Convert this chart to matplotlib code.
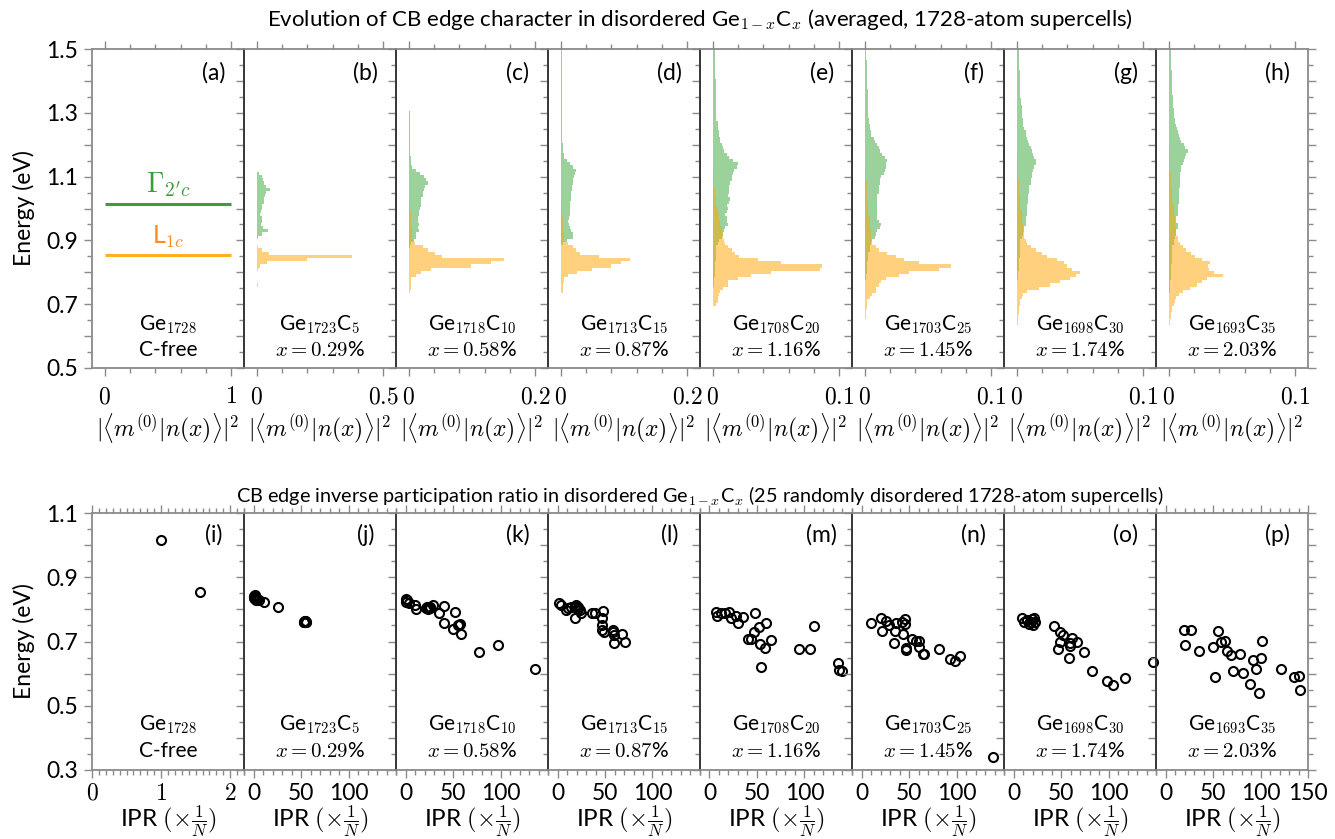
import numpy as np
import matplotlib
matplotlib.use('Agg')
import matplotlib.pyplot as plt
from matplotlib.ticker import FixedLocator, MultipleLocator

plt.rcParams['font.family'] = ['Lato', 'DejaVu Sans']
plt.rcParams['mathtext.fontset'] = 'cm'

# ---------------- DATA ----------------
E_STEP = 0.01  # histogram bin width (eV)

# panel (a): unperturbed Ge levels
a_level_E = [1.015, 0.855]
a_level_names = [r"$\Gamma_{2'c}$", r"L$_{1c}$"]

# panels (b)-(h): Gamma-character (green) and L-character (orange) spectral weights
# each list starts at the given energy and ascends in steps of E_STEP
b_green_E0 = 0.91
b_green = [0.006, 0.020, 0.045, 0.025, 0.016, 0.022, 0.020, 0.015, 0.016, 0.020, 0.022,
           0.027, 0.030, 0.033, 0.035, 0.052, 0.038, 0.030, 0.025, 0.022, 0.010]
b_orange_E0 = 0.76
b_orange = [0.006, 0.0, 0.0, 0.0, 0.002, 0.004, 0.015, 0.040, 0.200, 0.377, 0.050, 0.022, 0.004]

c_green_E0 = 0.88
c_green = [0.002, 0.004, 0.008, 0.012, 0.011, 0.017, 0.015, 0.016, 0.014, 0.015, 0.017, 0.016,
           0.018, 0.019, 0.019, 0.020, 0.022, 0.023, 0.024, 0.026, 0.030, 0.028, 0.024, 0.018,
           0.012, 0.005, 0.003, 0.003, 0.003, 0.002, 0.002, 0.002, 0.002,
           0.0015, 0.0015, 0.0015, 0.0015, 0.0015, 0.0015, 0.0015, 0.0015, 0.0015, 0.0015,
           0.0012, 0.0012, 0.0012, 0.0012, 0.0012, 0.0012, 0.0012, 0.0012, 0.0012, 0.0012,
           0.001, 0.001, 0.001, 0.001, 0.001, 0.001, 0.001, 0.001, 0.001, 0.001]
c_orange_E0 = 0.74
c_orange = [0.002, 0.003, 0.004, 0.003, 0.003, 0.012, 0.020, 0.035, 0.099, 0.130, 0.150, 0.052,
            0.041, 0.030, 0.023, 0.010, 0.007, 0.006, 0.006, 0.005, 0.005, 0.004, 0.004, 0.003,
            0.003, 0.003, 0.002, 0.002, 0.002, 0.001, 0.001, 0.001]

d_green_E0 = 0.89
d_green = [0.003, 0.010, 0.020, 0.019, 0.017, 0.014, 0.013, 0.012, 0.013, 0.014, 0.015, 0.015,
           0.014, 0.015, 0.016, 0.016, 0.017, 0.018, 0.018, 0.019, 0.020, 0.021, 0.023, 0.024,
           0.020, 0.015, 0.010, 0.006, 0.005, 0.004, 0.003, 0.003,
           0.0025, 0.0025, 0.0025, 0.0025, 0.0025, 0.0025, 0.0025, 0.0025, 0.0025, 0.0025,
           0.002, 0.002, 0.002, 0.002, 0.002, 0.002, 0.002, 0.002, 0.002, 0.002,
           0.0015, 0.0015, 0.0015, 0.0015, 0.0015, 0.0015, 0.0015, 0.0015, 0.0015, 0.0015]
d_orange_E0 = 0.74
d_orange = [0.003, 0.003, 0.004, 0.005, 0.006, 0.012, 0.025, 0.050, 0.080, 0.095, 0.110, 0.060,
            0.031, 0.024, 0.020, 0.012, 0.006, 0.005, 0.005, 0.004, 0.004, 0.003, 0.003, 0.003,
            0.002, 0.002, 0.002, 0.001, 0.001, 0.001, 0.001]

e_green_E0 = 0.76
e_green = [0.001, 0.001, 0.001, 0.002, 0.002, 0.002, 0.002, 0.002, 0.003, 0.003, 0.003, 0.003,
           0.003, 0.004, 0.005, 0.007, 0.008, 0.009, 0.010, 0.012, 0.011, 0.011, 0.010, 0.011,
           0.012, 0.011, 0.013, 0.014, 0.012, 0.013, 0.013, 0.013, 0.014, 0.015, 0.015, 0.016,
           0.017, 0.019, 0.020, 0.016, 0.013, 0.011, 0.009, 0.008, 0.007, 0.006, 0.006, 0.005,
           0.005, 0.004, 0.004, 0.004, 0.003, 0.003, 0.003,
           0.0025, 0.0025, 0.0025, 0.0025, 0.0025, 0.0025, 0.0025, 0.0025, 0.0025, 0.0025,
           0.002, 0.002, 0.002, 0.002, 0.002, 0.002, 0.002, 0.002, 0.002, 0.002]
e_orange_E0 = 0.70
e_orange = [0.003, 0.004, 0.004, 0.005, 0.006, 0.008, 0.012, 0.012, 0.020, 0.030, 0.046, 0.085,
            0.086, 0.054, 0.036, 0.021, 0.018, 0.015, 0.012, 0.010, 0.009, 0.008, 0.008, 0.007,
            0.007, 0.006, 0.006, 0.005, 0.005, 0.004, 0.004, 0.003, 0.003, 0.003, 0.002, 0.002,
            0.002, 0.001, 0.001, 0.001, 0.001]

f_green_E0 = 0.78
f_green = [0.001, 0.001, 0.002, 0.002, 0.002, 0.002, 0.003, 0.003, 0.003, 0.004, 0.004, 0.005,
           0.006, 0.008, 0.009, 0.010, 0.012, 0.013, 0.011, 0.010, 0.010, 0.010, 0.010, 0.010,
           0.010, 0.010, 0.010, 0.011, 0.011, 0.011, 0.012, 0.012, 0.013, 0.015, 0.016, 0.017,
           0.017, 0.018, 0.016, 0.014, 0.012, 0.011, 0.010, 0.008, 0.007, 0.005, 0.005, 0.004,
           0.004, 0.0035, 0.0035, 0.003, 0.003, 0.003, 0.003, 0.0028, 0.0026, 0.0025, 0.0024,
           0.0023, 0.0022, 0.0021, 0.002, 0.002, 0.0019, 0.0018, 0.0017, 0.0016, 0.0015, 0.0014,
           0.0013, 0.0012, 0.0011]
f_orange_E0 = 0.66
f_orange = [0.001, 0.001, 0.001, 0.002, 0.002, 0.002, 0.004, 0.006, 0.009, 0.009, 0.011, 0.013,
            0.017, 0.027, 0.035, 0.059, 0.068, 0.043, 0.031, 0.025, 0.018, 0.011, 0.009, 0.006,
            0.005, 0.005, 0.005, 0.005, 0.004, 0.004, 0.004, 0.004, 0.003, 0.003, 0.003, 0.003,
            0.003, 0.002, 0.002, 0.002, 0.002, 0.002, 0.002, 0.001, 0.001, 0.001, 0.001]

g_green_E0 = 0.78
g_green = [0.001, 0.001, 0.001, 0.002, 0.002, 0.002, 0.002, 0.003, 0.003, 0.003, 0.003, 0.003,
           0.003, 0.004, 0.005, 0.006, 0.006, 0.007, 0.007, 0.007, 0.008, 0.008, 0.008, 0.008,
           0.009, 0.009, 0.009, 0.010, 0.010, 0.010, 0.011, 0.011, 0.012, 0.012, 0.013, 0.014,
           0.015, 0.015, 0.014, 0.013, 0.012, 0.011, 0.010, 0.009, 0.008, 0.007, 0.007, 0.006,
           0.005, 0.005, 0.005, 0.004, 0.004, 0.004, 0.004, 0.0035, 0.0035, 0.003, 0.003, 0.003,
           0.003, 0.0028, 0.0026, 0.0025, 0.0024, 0.0023, 0.0022, 0.002, 0.002, 0.0019, 0.0018,
           0.0017, 0.0016]
g_orange_E0 = 0.64
g_orange = [0.001, 0.001, 0.001, 0.002, 0.002, 0.002, 0.003, 0.003, 0.004, 0.005, 0.008, 0.018,
            0.026, 0.034, 0.042, 0.047, 0.050, 0.044, 0.040, 0.037, 0.032, 0.024, 0.020, 0.015,
            0.011, 0.008, 0.007, 0.006, 0.006, 0.005, 0.005, 0.005, 0.004, 0.004, 0.004, 0.004,
            0.003, 0.003, 0.003, 0.003, 0.003, 0.002, 0.002, 0.002, 0.002, 0.002, 0.001, 0.001,
            0.001, 0.001, 0.001, 0.001]

h_green_E0 = 0.74
h_green = [0.001, 0.001, 0.001, 0.001, 0.002, 0.002, 0.002, 0.002, 0.002, 0.003, 0.003, 0.003,
           0.003, 0.003, 0.003, 0.004, 0.004, 0.005, 0.006, 0.006, 0.007, 0.007, 0.006, 0.006,
           0.007, 0.007, 0.007, 0.007, 0.008, 0.008, 0.008, 0.008, 0.008, 0.009, 0.009, 0.009,
           0.009, 0.009, 0.010, 0.010, 0.011, 0.012, 0.013, 0.014, 0.0155, 0.013, 0.012, 0.010,
           0.009, 0.008, 0.007, 0.0065, 0.006, 0.005, 0.005, 0.0045, 0.004, 0.004, 0.0038,
           0.0036, 0.0034, 0.0032, 0.003, 0.003, 0.0028, 0.0027, 0.0026, 0.0025, 0.0024, 0.0023,
           0.0022, 0.0021, 0.002, 0.002, 0.0019, 0.0018, 0.0017]
h_orange_E0 = 0.64
h_orange = [0.001, 0.001, 0.002, 0.002, 0.003, 0.003, 0.004, 0.005, 0.006, 0.008, 0.011, 0.017,
            0.022, 0.026, 0.030, 0.043, 0.036, 0.032, 0.031, 0.033, 0.026, 0.021, 0.018, 0.014,
            0.011, 0.009, 0.007, 0.007, 0.006, 0.006, 0.006, 0.005, 0.005, 0.005, 0.004, 0.004,
            0.004, 0.004, 0.003, 0.003, 0.003, 0.003, 0.003, 0.002, 0.002, 0.002, 0.002, 0.002,
            0.001, 0.001, 0.001, 0.001, 0.001, 0.001, 0.001]

hist_green = [(b_green_E0, b_green), (c_green_E0, c_green), (d_green_E0, d_green),
              (e_green_E0, e_green), (f_green_E0, f_green), (g_green_E0, g_green),
              (h_green_E0, h_green)]
hist_orange = [(b_orange_E0, b_orange), (c_orange_E0, c_orange), (d_orange_E0, d_orange),
               (e_orange_E0, e_orange), (f_orange_E0, f_orange), (g_orange_E0, g_orange),
               (h_orange_E0, h_orange)]

# panels (i)-(p): IPR vs energy of CB edge states
i_ipr = [1.0, 1.57]
i_E = [1.015, 0.855]
j_ipr = [0.5, 1.0, 1.5, 2.0, 2.5, 3.0, 3.5, 1.2, 2.2, 0.8, 1.8, 2.8, 6, 11, 26,
         53, 53.5, 54, 54.5, 55, 53.8, 54.3, 55.3, 54.6, 53.3]
j_E = [0.843, 0.838, 0.833, 0.840, 0.835, 0.830, 0.828, 0.845, 0.831, 0.836, 0.842, 0.834, 0.829,
       0.823, 0.806, 0.762, 0.760, 0.763, 0.761, 0.762, 0.764, 0.760, 0.762, 0.763, 0.761]
k_ipr = [0.5, 0.9, 3.4, 10, 10.8, 22, 23.7, 25.5, 29, 35.5, 40.5, 41, 50, 52.6, 55, 57, 58,
         77, 97.6, 136, 2, 24, 26, 56, 22.5]
k_E = [0.831, 0.824, 0.819, 0.814, 0.802, 0.803, 0.806, 0.808, 0.815, 0.788, 0.811, 0.757, 0.739,
       0.793, 0.752, 0.754, 0.722, 0.668, 0.688, 0.615, 0.828, 0.801, 0.804, 0.750, 0.806]
l_ipr = [1.6, 4, 9.3, 11, 14.5, 18, 19.8, 21.6, 23.3, 25, 18, 36.6, 39, 47.9, 47, 46.5, 47,
         48.6, 58.4, 59, 59.5, 68.3, 71, 22, 58]
l_E = [0.819, 0.814, 0.798, 0.803, 0.808, 0.806, 0.814, 0.808, 0.798, 0.790, 0.774, 0.790, 0.790,
       0.796, 0.772, 0.751, 0.736, 0.731, 0.729, 0.720, 0.696, 0.722, 0.700, 0.800, 0.735]
m_ipr = [7.2, 7.9, 11.8, 16.6, 20.2, 23, 28.2, 30, 35.3, 47.6, 51.8, 47, 40.5, 44, 53.5, 59.8,
         58.8, 64.4, 54.5, 93.9, 105.5, 110, 135.3, 136, 139.8]
m_E = [0.793, 0.779, 0.790, 0.788, 0.793, 0.772, 0.780, 0.757, 0.777, 0.788, 0.746, 0.731, 0.707,
       0.707, 0.692, 0.759, 0.679, 0.705, 0.620, 0.677, 0.677, 0.749, 0.632, 0.611, 0.609]
n_ipr = [9.7, 20.2, 22, 26.2, 28.6, 35, 36.6, 34.2, 42.6, 43.7, 45.5, 46, 47.2, 47.2, 53.2, 57.7,
         60.5, 60.2, 64.7, 65.8, 81.2, 92.8, 98.7, 104, 138.4]
n_E = [0.759, 0.772, 0.734, 0.765, 0.751, 0.734, 0.759, 0.696, 0.762, 0.723, 0.769, 0.754, 0.679,
       0.674, 0.707, 0.703, 0.703, 0.682, 0.661, 0.660, 0.677, 0.645, 0.640, 0.656, 0.341]
o_ipr = [8.9, 10.7, 14.2, 16, 18.4, 20.5, 21.9, 23, 19, 42.3, 49.3, 52.1, 49.3, 46.5, 58.1, 59.2,
         59.8, 61.6, 66.8, 74.5, 82.6, 98.4, 104.7, 117.7, 146.8]
o_E = [0.772, 0.762, 0.767, 0.754, 0.762, 0.751, 0.772, 0.762, 0.770, 0.749, 0.731, 0.720, 0.700,
       0.677, 0.650, 0.694, 0.686, 0.711, 0.698, 0.667, 0.607, 0.576, 0.565, 0.585, 0.637]
p_ipr = [19.8, 27.2, 20.2, 34.9, 55.3, 50, 58.7, 63, 64.7, 69.3, 78.7, 71, 81.3, 52.5, 92, 95.6,
         101.6, 100.8, 89.3, 98, 121.6, 135.6, 140.2, 141.9]
p_E = [0.736, 0.736, 0.689, 0.671, 0.734, 0.682, 0.700, 0.702, 0.670, 0.658, 0.661, 0.609, 0.603,
       0.590, 0.642, 0.614, 0.702, 0.650, 0.568, 0.539, 0.614, 0.589, 0.593, 0.549]
ipr_sets = [(i_ipr, i_E), (j_ipr, j_E), (k_ipr, k_E), (l_ipr, l_E), (m_ipr, m_E),
            (n_ipr, n_E), (o_ipr, o_E), (p_ipr, p_E)]

compositions = ["Ge$_{1728}$", "Ge$_{1723}$C$_{5}$", "Ge$_{1718}$C$_{10}$", "Ge$_{1713}$C$_{15}$",
                "Ge$_{1708}$C$_{20}$", "Ge$_{1703}$C$_{25}$", "Ge$_{1698}$C$_{30}$",
                "Ge$_{1693}$C$_{35}$"]
concentrations = ["C-free", "$x = 0.29$%", "$x = 0.58$%", "$x = 0.87$%", "$x = 1.16$%",
                  "$x = 1.45$%", "$x = 1.74$%", "$x = 2.03$%"]
top_letters = ["(a)", "(b)", "(c)", "(d)", "(e)", "(f)", "(g)", "(h)"]
bot_letters = ["(i)", "(j)", "(k)", "(l)", "(m)", "(n)", "(o)", "(p)"]

top_xmax = [1, 0.5, 0.2, 0.2, 0.1, 0.1, 0.1, 0.1]
top_xticklabels = [["$0$", "$1$"], ["$0$", "$0.5$"], ["$0$", "$0.2$"], ["$0$", "$0.2$"],
                   ["$0$", "$0.1$"], ["$0$", "$0.1$"], ["$0$", "$0.1$"], ["$0$", "$0.1$"]]
top_minor = [0.2, 0.1, 0.04, 0.04, 0.02, 0.02, 0.02, 0.02]
top_yticks = [0.5, 0.6, 0.7, 0.8, 0.9, 1.0, 1.1, 1.2, 1.3, 1.4, 1.5]
top_yticklabels = ["0.5", "", "0.7", "", "0.9", "", "1.1", "", "1.3", "", "1.5"]
bot_yticks = [0.3, 0.4, 0.5, 0.6, 0.7, 0.8, 0.9, 1.0, 1.1]
bot_yticklabels = ["0.3", "", "0.5", "", "0.7", "", "0.9", "", "1.1"]
i_xticks = [0, 1, 2]
i_xticklabels = ["$0$", "$1$", "$2$"]
ipr_xticks = [0, 50, 100, 150]

title_top = "Evolution of CB edge character in disordered Ge$_{1-x}$C$_x$ (averaged, 1728-atom supercells)"
title_bot = ("CB edge inverse participation ratio in disordered Ge$_{1-x}$C$_x$ "
             "(25 randomly disordered 1728-atom supercells)")
xlabel_top = r"$|\langle m^{(0)}|n(x)\rangle|^2$"
xlabel_bot = r"IPR $(\times\frac{1}{N})$"

# ---------------- STYLE ----------------
GREEN = '#2ca02c'
ORANGE = '#ffa500'
LINE_GREEN = '#3b9e3b'
LINE_ORANGE = '#ffb020'
LABEL_ORANGE = '#ff8c1a'
FRAME = '#8a8a8a'
DIVIDER = '#2a2a2a'

W, H = 1335, 839
fig = plt.figure(figsize=(W / 100, H / 100), dpi=100)
LEFT0, PW = 92, 152
TOP = (49, 368)
BOT = (513, 770)


def add_ax(k, yr):
    return fig.add_axes([(LEFT0 + PW * k) / W, 1 - yr[1] / H, PW / W, (yr[1] - yr[0]) / H])


def style(ax, k, xpad):
    ax.set_facecolor('none')
    for s in ax.spines.values():
        s.set_color(FRAME)
        s.set_linewidth(1.3)
    if k > 0:
        ax.spines['left'].set_color(DIVIDER)
        ax.spines['left'].set_linewidth(1.2)
    last = (k == 7)
    ax.tick_params(which='both', direction='out', colors=FRAME, labelcolor='black',
                   top=True, bottom=True, left=True, right=last, labelsize=16.5)
    ax.tick_params(which='major', length=6, width=1.0)
    ax.tick_params(which='minor', length=3.5, width=1.0)
    ax.tick_params(axis='x', which='major', pad=xpad)
    ax.tick_params(axis='y', which='major', pad=4)
    if k > 0:
        ax.tick_params(labelleft=False)


for k in range(8):
    ax = add_ax(k, TOP)
    style(ax, k, 7)
    ax.set_ylim(0.5, 1.5)
    ax.set_xlim(-0.1 * top_xmax[k], 1.1 * top_xmax[k])
    ax.xaxis.set_major_locator(FixedLocator([0, top_xmax[k]]))
    ax.set_xticklabels(top_xticklabels[k], fontsize=17)
    ax.xaxis.set_minor_locator(MultipleLocator(top_minor[k]))
    ax.yaxis.set_major_locator(FixedLocator(top_yticks))
    ax.set_yticklabels(top_yticklabels)
    ax.yaxis.set_minor_locator(MultipleLocator(0.05))
    ax.set_xlabel(xlabel_top, fontsize=17, labelpad=3)
    ax.text(0.80, 0.925, top_letters[k], transform=ax.transAxes, ha='center', va='center',
            fontsize=16.5)
    ax.text(0.5, 0.135, compositions[k], transform=ax.transAxes, ha='center', va='center',
            fontsize=15)
    ax.text(0.5, 0.055, concentrations[k], transform=ax.transAxes, ha='center', va='center',
            fontsize=15)
    if k == 0:
        ax.set_ylabel("Energy (eV)", fontsize=16.5, labelpad=8)
        ax.hlines(a_level_E, 0, top_xmax[0], colors=[LINE_GREEN, LINE_ORANGE], linewidth=2.2)
        ax.text(0.5, a_level_E[0] + 0.06, a_level_names[0], color=LINE_GREEN, ha='center',
                va='center', fontsize=20)
        ax.text(0.5, a_level_E[1] + 0.055, a_level_names[1], color=LABEL_ORANGE, ha='center',
                va='center', fontsize=18)
    else:
        gE0, gv = hist_green[k - 1]
        oE0, ov = hist_orange[k - 1]
        ax.barh(gE0 + E_STEP * np.arange(len(gv)), gv, height=E_STEP, color=GREEN,
                alpha=0.47, linewidth=0)
        ax.barh(oE0 + E_STEP * np.arange(len(ov)), ov, height=E_STEP, color=ORANGE,
                alpha=0.5, linewidth=0)

for k in range(8):
    ax = add_ax(k, BOT)
    style(ax, k, 3)
    ax.set_ylim(0.3, 1.1)
    ax.yaxis.set_major_locator(FixedLocator(bot_yticks))
    ax.set_yticklabels(bot_yticklabels)
    ax.yaxis.set_minor_locator(MultipleLocator(0.05))
    if k == 0:
        ax.set_xlim(0, 2.2)
        ax.xaxis.set_major_locator(FixedLocator(i_xticks))
        ax.set_xticklabels(i_xticklabels, fontsize=17)
        ax.xaxis.set_minor_locator(MultipleLocator(0.1))
        ax.set_ylabel("Energy (eV)", fontsize=16.5, labelpad=8)
    else:
        ax.set_xlim(-10, 150)
        ticks = ipr_xticks if k == 7 else ipr_xticks[:3]
        ax.xaxis.set_major_locator(FixedLocator(ticks))
        ax.set_xticklabels([str(t) for t in ticks], fontsize=16.5)
        ax.xaxis.set_minor_locator(MultipleLocator(10))
    xs, ys = ipr_sets[k]
    ax.plot(xs, ys, 'o', mfc='none', mec='black', ms=6.5, mew=1.5, clip_on=False, zorder=5)
    ax.set_xlabel(xlabel_bot, fontsize=17.5, labelpad=0)
    ax.text(0.80, 0.915, bot_letters[k], transform=ax.transAxes, ha='center', va='center',
            fontsize=16.5)
    ax.text(0.5, 0.175, compositions[k], transform=ax.transAxes, ha='center', va='center',
            fontsize=15)
    ax.text(0.5, 0.075, concentrations[k], transform=ax.transAxes, ha='center', va='center',
            fontsize=15)

fig.text(700 / W, 1 - 19 / H, title_top, ha='center', va='center', fontsize=16)
fig.text(700 / W, 1 - 496 / H, title_bot, ha='center', va='center', fontsize=14.3)

fig.savefig('out.png', dpi=100)
